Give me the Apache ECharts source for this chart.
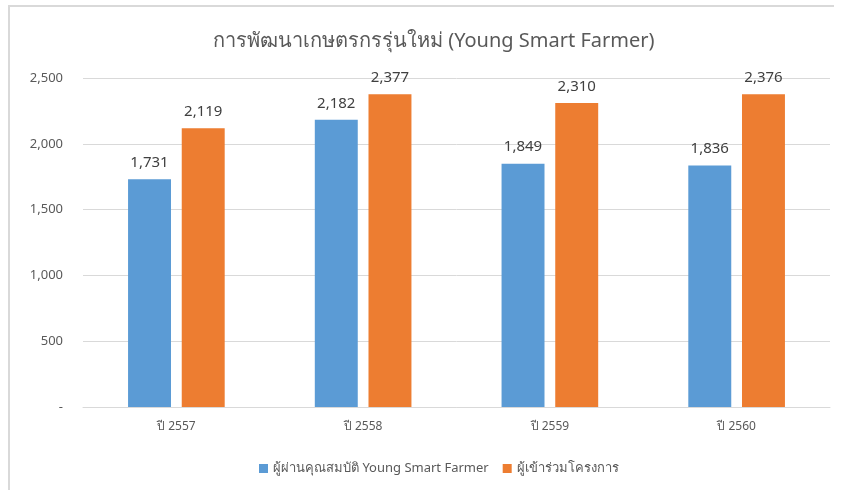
<!DOCTYPE html>
<html>
<head>
<meta charset="utf-8">
<script src="https://cdn.jsdelivr.net/npm/echarts@6/dist/echarts.min.js"></script>
<style>
  html, body { margin: 0; padding: 0; background: #fff; }
  #frame {
    position: absolute; left: 8px; top: 5px; width: 824px; height: 485px;
    border-top: 2px solid #d9d9d9; border-left: 2px solid #d9d9d9;
  }
  #chart { position: absolute; left: 0; top: 0; width: 844px; height: 490px; }
</style>
</head>
<body>
<div id="frame"></div>
<div id="chart"></div>
<script>
// ข้อมูลกราฟ
const categories = ['ปี 2557', 'ปี 2558', 'ปี 2559', 'ปี 2560']
const passedValues = [1731, 2182, 1849, 1836]
const joinedValues = [2119, 2377, 2310, 2376]
const seriesNames = ['ผู้ผ่านคุณสมบัติ Young Smart Farmer', 'ผู้เข้าร่วมโครงการ']

const font = '"Noto Sans", "DejaVu Sans", sans-serif'
const fmt = v => v === 0 ? '-' : v.toLocaleString('en-US')

const chart = echarts.init(document.getElementById('chart'))

chart.setOption({
  animation: false,
  backgroundColor: 'transparent',
  title: {
    text: 'การพัฒนาเกษตรกรรุ่นใหม่ (Young Smart Farmer)',
    left: 208,
    top: 26,
    textStyle: { fontFamily: font, fontSize: 20, fontWeight: 'normal', color: '#595959' }
  },
  legend: {
    bottom: 10,
    left: 254,
    itemWidth: 9,
    itemHeight: 9,
    itemGap: 14,
    icon: 'rect',
    textStyle: { fontFamily: font, fontSize: 13, color: '#595959' },
    data: seriesNames
  },
  grid: { left: 83, right: 14, top: 78, bottom: 83 },
  xAxis: {
    type: 'category',
    data: categories,
    axisLine: { lineStyle: { color: '#d9d9d9', width: 1 } },
    axisTick: { show: false },
    axisLabel: { fontFamily: font, fontSize: 12, color: '#595959', margin: 14 }
  },
  yAxis: {
    type: 'value',
    min: 0,
    max: 2500,
    interval: 500,
    axisLine: { show: false },
    axisTick: { show: false },
    splitLine: { lineStyle: { color: '#d9d9d9' } },
    axisLabel: { fontFamily: font, fontSize: 13, color: '#595959', margin: 20, formatter: fmt }
  },
  series: [
    {
      name: seriesNames[0],
      type: 'bar',
      data: passedValues,
      barWidth: '23%',
      barGap: '25%',
      itemStyle: { color: '#5b9bd5' },
      label: {
        show: true, position: 'top', distance: 9,
        fontFamily: font, fontSize: 15, color: '#404040',
        formatter: p => fmt(p.value)
      }
    },
    {
      name: seriesNames[1],
      type: 'bar',
      data: joinedValues,
      barWidth: '23%',
      itemStyle: { color: '#ed7d31' },
      label: {
        show: true, position: 'top', distance: 9,
        fontFamily: font, fontSize: 15, color: '#404040',
        formatter: p => fmt(p.value)
      }
    }
  ]
})
</script>
</body>
</html>
